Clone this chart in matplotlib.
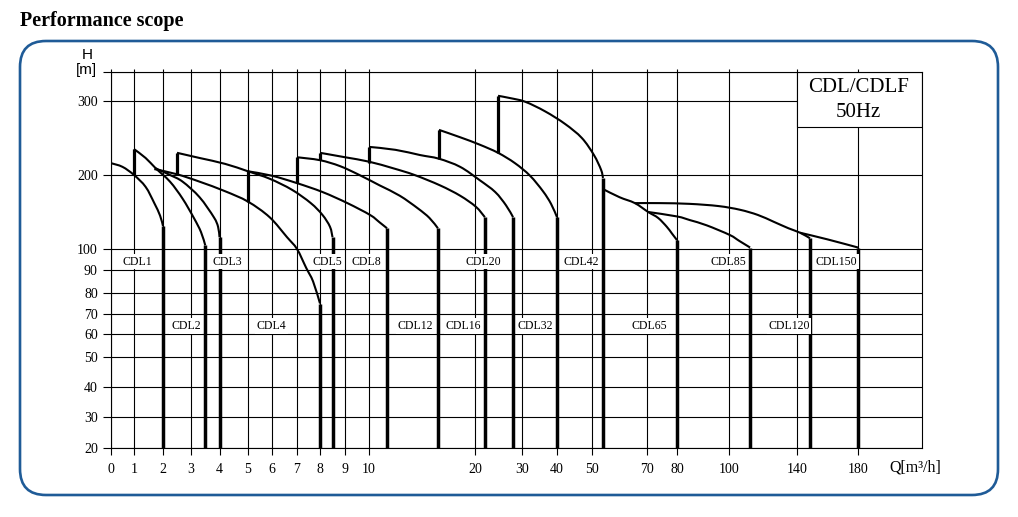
import matplotlib
matplotlib.use('Agg')
import matplotlib.pyplot as plt
import numpy as np
from matplotlib.patches import FancyBboxPatch, Rectangle, PathPatch
from matplotlib.path import Path

plt.rcParams['font.family'] = ['Liberation Serif', 'DejaVu Serif']

# tick values printed on the sheet
x_ticks = [0, 1, 2, 3, 4, 5, 6, 7, 8, 9, 10, 20, 30, 40, 50, 70, 80, 100, 140, 180]
y_ticks = [20, 30, 40, 50, 60, 70, 80, 90, 100, 200, 300]

# the sheet uses a hand-drawn piecewise scale (value -> pixel)
x_scale_val = [-5, 0, 1, 2, 3, 4, 5, 6, 7, 8, 9, 10, 20, 30, 40, 50, 70, 80, 100, 140, 180, 220, 260]
x_scale_pix = [96, 111, 134, 163, 191, 219.5, 248, 272, 297, 320, 345, 369, 475, 522, 557, 592,
               647, 677, 729, 797, 858, 922, 986]
y_scale_val = [10, 20, 30, 40, 50, 60, 70, 80, 90, 100, 200, 300, 339, 400]
y_scale_pix = [479, 448, 417, 387, 357, 334, 314, 293, 270, 249, 175, 101, 72, 27]

# performance curves, Q [m3/h] / H [m]
cdl1_q = [0, 0.5, 1, 1.4, 1.7, 1.9, 2.0]
cdl1_h = [216, 211, 200, 184, 162, 145, 131]
cdl2_q = [1, 1.4, 1.75, 2.25, 2.7, 3.1, 3.35, 3.5]
cdl2_h = [235, 223, 209, 191, 168, 142, 123, 105]
cdl3_q = [1.75, 2.25, 2.7, 3.3, 3.8, 3.95, 4.0]
cdl3_h = [209, 200, 191, 170, 143, 130, 116]
cdl4_q = [1.7, 2.5, 3.3, 4.2, 5, 5.9, 6.6, 7, 7.4, 7.7, 8]
cdl4_h = [208, 201, 191, 178, 164, 143, 116, 100, 91, 85, 75]
cdl5_q = [2.5, 3.3, 4.2, 5, 5.9, 6.8, 7.6, 8.1, 8.4, 8.5]
cdl5_h = [230, 223, 215, 205, 195, 180, 162, 146, 130, 116]
cdl8_q = [5, 6, 7, 8.1, 9.1, 10.1, 11, 11.7]
cdl8_h = [205, 199, 189, 177, 162, 146, 136, 128]
cdl12_q = [7, 8, 8.8, 9.6, 11, 12.9, 14.6, 15.7, 16.5]
cdl12_h = [224, 220, 212, 200, 186, 172, 155, 142, 128]
cdl16_q = [8, 9, 10, 12.3, 14.3, 16.7, 18.6, 20.2, 22.1]
cdl16_h = [230, 224, 218, 209, 200, 186, 172, 157, 143]
cdl20_q = [10, 12.5, 14.8, 16.6, 18.6, 21, 24.3, 26.6, 28.1]
cdl20_h = [238, 234, 227, 222, 211, 193, 177, 159, 143]
cdl32_q = [16.6, 18.6, 21, 24.9, 28.5, 32.3, 36, 38.3, 40]
cdl32_h = [261, 251, 241, 230, 216, 199, 178, 161, 143]
cdl42_q = [24.9, 27.4, 30.9, 36.6, 42.3, 47.1, 50.7, 53.3, 54]
cdl42_h = [307, 304, 299, 286, 269, 250, 227, 207, 196]
cdl65_q = [54, 60, 65.6, 70.4, 73.7, 76.6, 78.3, 80]
cdl65_h = [181, 170, 162, 150, 142, 130, 121, 112]
cdl85_q = [70.4, 80, 85, 91.4, 100.4, 106, 112.4]
cdl85_h = [150, 144, 139, 132, 119, 111, 102]
cdl120_q = [65.6, 74.3, 84.9, 96, 106.5, 117, 126.1, 135, 142, 148.5]
cdl120_h = [162, 162, 161, 158, 153, 146, 137, 128, 122, 114.5]
cdl150_q = [142, 160, 180]
cdl150_h = [122, 113, 102]

curves = {
    'CDL1': (cdl1_q, cdl1_h), 'CDL2': (cdl2_q, cdl2_h), 'CDL3': (cdl3_q, cdl3_h),
    'CDL4': (cdl4_q, cdl4_h), 'CDL5': (cdl5_q, cdl5_h), 'CDL8': (cdl8_q, cdl8_h),
    'CDL12': (cdl12_q, cdl12_h), 'CDL16': (cdl16_q, cdl16_h), 'CDL20': (cdl20_q, cdl20_h),
    'CDL32': (cdl32_q, cdl32_h), 'CDL42': (cdl42_q, cdl42_h), 'CDL65': (cdl65_q, cdl65_h),
    'CDL85': (cdl85_q, cdl85_h), 'CDL120': (cdl120_q, cdl120_h), 'CDL150': (cdl150_q, cdl150_h),
}

# min-flow lines: head at foot of the line (top is the curve start)
start_names = ['CDL2', 'CDL5', 'CDL8', 'CDL12', 'CDL16', 'CDL20', 'CDL32', 'CDL42']
start_h_low = [200, 201, 164, 189, 220, 216, 222, 230]

H_BOTTOM = 20
H_TOP = 339
Q_RIGHT = 220


def fwd_x(v):
    return np.interp(v, x_scale_val, x_scale_pix)


def inv_x(p):
    return np.interp(p, x_scale_pix, x_scale_val)


def fwd_y(v):
    return -np.interp(v, y_scale_val, y_scale_pix)


def inv_y(p):
    return np.interp(p, -np.array(y_scale_pix, dtype=float), y_scale_val)


def smooth_path(q, h):
    # bezier through the read points, control points set in scaled space
    P = np.column_stack([fwd_x(q), fwd_y(h)])
    n = len(P)
    verts = [P[0]]
    codes = [Path.MOVETO]
    for i in range(n - 1):
        p0 = P[i - 1] if i > 0 else P[i]
        p1, p2 = P[i], P[i + 1]
        p3 = P[i + 2] if i + 2 < n else P[i + 1]
        verts += [p1 + (p2 - p0) / 6, p2 - (p3 - p1) / 6, p2]
        codes += [Path.CURVE4] * 3
    verts = np.array(verts)
    return Path(np.column_stack([inv_x(verts[:, 0]), inv_y(verts[:, 1])]), codes)


W, Hpx = 1018, 517
fig = plt.figure(figsize=(W / 100, Hpx / 100), dpi=100)

# page overlay in pixel coords: title, border, axis captions
page = fig.add_axes([0, 0, 1, 1], zorder=0)
page.set_xlim(0, W)
page.set_ylim(Hpx, 0)
page.axis('off')
page.add_patch(FancyBboxPatch((20, 41), 978, 454, boxstyle='round,pad=0,rounding_size=26',
                              fc='none', ec='#1f5b97', lw=1.9))
page.text(20, 21, 'Performance scope', fontsize=14.5, fontweight='bold', ha='left', va='center')
page.text(87, 55, 'H', fontsize=11, family='Liberation Sans', ha='center', va='center')
page.text(86, 70, '[m]', fontsize=11, family='Liberation Sans', ha='center', va='center')
page.text(915, 468, 'Q[m³/h]', fontsize=11.5, ha='center', va='center')

ax = fig.add_axes([111 / W, (Hpx - 448) / Hpx, (922 - 111) / W, (448 - 72) / Hpx], zorder=1)
ax.set_xscale('function', functions=(fwd_x, inv_x))
ax.set_yscale('function', functions=(fwd_y, inv_y))
ax.set_xlim(0, Q_RIGHT)
ax.set_ylim(H_BOTTOM, H_TOP)

ax.set_xticks(x_ticks, [str(v) for v in x_ticks])
ax.set_yticks(y_ticks + [H_TOP], [str(v) for v in y_ticks] + [''])
ax.minorticks_off()
ax.tick_params(axis='x', direction='out', length=5, width=0.8, pad=6, labelsize=10)
ax.tick_params(axis='y', direction='out', length=6, width=0.8, pad=3.5, labelsize=10)
ax.set_axisbelow(True)
ax.grid(True, color='black', lw=0.8)
for s in ax.spines.values():
    s.set_linewidth(0.8)
# short stubs of the verticals above the frame
ax.vlines(x_ticks, 1.0, 1.008, transform=ax.get_xaxis_transform(), colors='black',
          lw=0.8, clip_on=False)

# CDL/CDLF 50Hz box in the upper right corner
ax.add_patch(Rectangle((140, 265), Q_RIGHT - 140, H_TOP - 265, fc='white', ec='black',
                       lw=0.8, zorder=1.5))
ax.text(180.5, 318, 'CDL/CDLF', fontsize=15, ha='center', va='center', zorder=2)
ax.text(180.5, 285, '50Hz', fontsize=15, ha='center', va='center', zorder=2)

for name, (q, h) in curves.items():
    ax.add_patch(PathPatch(smooth_path(q, h), fc='none', ec='black', lw=1.5, zorder=3,
                           capstyle='butt'))
    ax.plot([q[-1], q[-1]], [h[-1], H_BOTTOM], color='black', lw=2.5, zorder=3,
            solid_capstyle='butt')

for name, h_low in zip(start_names, start_h_low):
    q, h = curves[name]
    ax.plot([q[0], q[0]], [h_low, h[0]], color='black', lw=2.3, zorder=3,
            solid_capstyle='butt')

label_pos = [('CDL1', 1.12, 94), ('CDL2', 2.82, 64), ('CDL3', 4.27, 94), ('CDL4', 5.96, 64),
             ('CDL5', 8.28, 94), ('CDL8', 9.88, 94), ('CDL12', 14.4, 64), ('CDL16', 18.9, 64),
             ('CDL20', 21.7, 94), ('CDL32', 33.7, 64), ('CDL42', 46.8, 94), ('CDL65', 70.7, 64),
             ('CDL85', 99.7, 94), ('CDL120', 135.3, 64), ('CDL150', 166.1, 94)]
for name, lq, lh in label_pos:
    ax.text(lq, lh, name, fontsize=8.5, ha='center', va='center', zorder=4,
            bbox=dict(fc='white', ec='none', pad=1.2))

fig.savefig('out.png', dpi=100)
